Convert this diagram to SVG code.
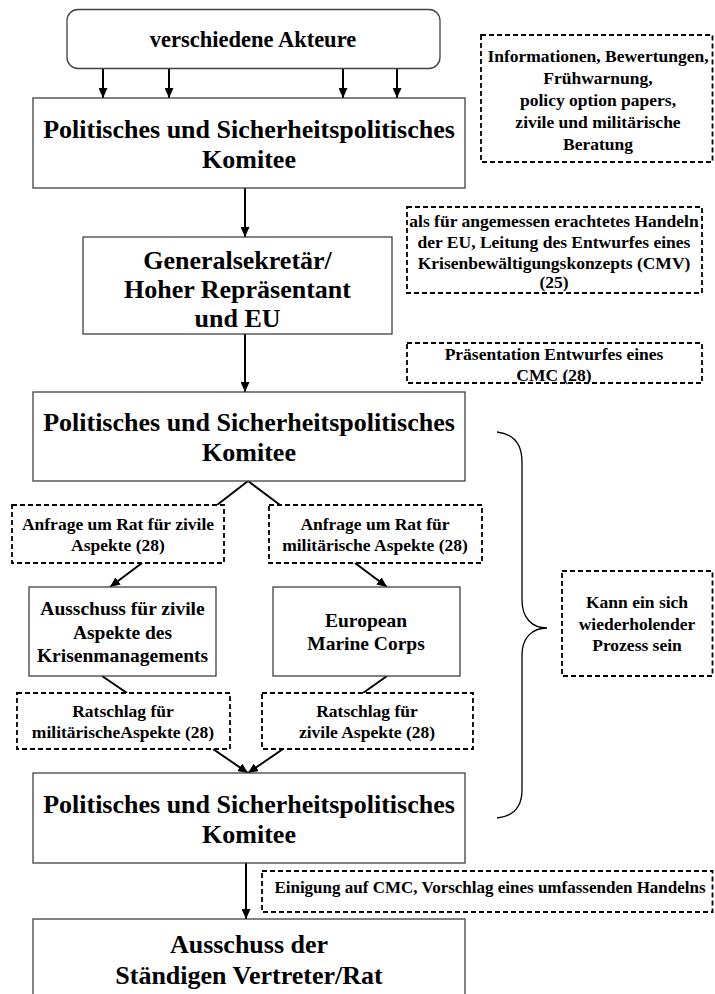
<svg xmlns="http://www.w3.org/2000/svg" width="715" height="994" viewBox="0 0 715 994">
<style>
.box{fill:#fff;stroke:#404040;stroke-width:1.3}
.dash{fill:#fff;stroke:#000;stroke-width:1.8;stroke-dasharray:5 3}
.t{font-family:"Liberation Serif","Times New Roman",serif;font-weight:bold;text-anchor:middle;fill:#000}
.big{font-size:26px}
.mid{font-size:19.5px}
.sm{font-size:17.5px}
.xs{font-size:17px}
.top{font-size:22.5px}
.con{stroke:#000;stroke-width:2;fill:none}
.brace{stroke:#000;stroke-width:1.3;fill:none}
</style>
<defs>
<marker id="ah" markerUnits="userSpaceOnUse" markerWidth="11" markerHeight="9" refX="10" refY="4.5" orient="auto">
<path d="M0,0 L10,4.5 L0,9 z" fill="#000"/>
</marker>
</defs>
<rect width="715" height="994" fill="#fff"/>

<g id="connectors">
<line class="con" x1="103" y1="68" x2="103" y2="98" marker-end="url(#ah)"/>
<line class="con" x1="169" y1="68" x2="169" y2="98" marker-end="url(#ah)"/>
<line class="con" x1="343" y1="68" x2="343" y2="98" marker-end="url(#ah)"/>
<line class="con" x1="397" y1="68" x2="397" y2="98" marker-end="url(#ah)"/>
<line class="con" x1="245" y1="188" x2="245" y2="237" marker-end="url(#ah)"/>
<line class="con" x1="245" y1="334" x2="245" y2="392" marker-end="url(#ah)"/>
<line class="con" x1="248" y1="481" x2="217" y2="505"/>
<line class="con" x1="248" y1="481" x2="280" y2="505"/>
<line class="con" x1="142" y1="563" x2="110" y2="587" marker-end="url(#ah)"/>
<line class="con" x1="355" y1="563" x2="387" y2="587" marker-end="url(#ah)"/>
<line class="con" x1="102" y1="676" x2="127" y2="693"/>
<line class="con" x1="387" y1="676" x2="363" y2="693"/>
<line class="con" x1="213" y1="749" x2="248" y2="773" marker-end="url(#ah)"/>
<line class="con" x1="283" y1="749" x2="248" y2="773" marker-end="url(#ah)"/>
<line class="con" x1="246" y1="863" x2="246" y2="919" marker-end="url(#ah)"/>
<path class="brace" d="M497,432 C515,434 522,445 522,462 L522,600 C522,618 532,628 547,628 C532,628 522,638 522,655 L522,790 C522,806 515,816 497,818"/>
</g>

<g id="akteure">
<rect class="box" x="67" y="9.5" width="373" height="59" rx="11"/>
<text class="t top" x="253" y="47">verschiedene Akteure</text>
</g>

<g id="psk1">
<rect class="box" x="33" y="98" width="432" height="90"/>
<text class="t big" x="249" y="138">Politisches und Sicherheitspolitisches</text>
<text class="t big" x="249" y="168">Komitee</text>
</g>

<g id="info">
<rect class="dash" x="481" y="35" width="231.5" height="127"/>
<text class="t sm" x="598" y="62">Informationen, Bewertungen,</text>
<text class="t sm" x="598" y="84">Frühwarnung,</text>
<text class="t sm" x="598" y="106">policy option papers,</text>
<text class="t sm" x="598" y="128">zivile und militärische</text>
<text class="t sm" x="598" y="150">Beratung</text>
</g>

<g id="gs">
<rect class="box" x="83" y="237" width="309" height="97"/>
<text class="t big" x="237.5" y="269">Generalsekretär/</text>
<text class="t big" x="237.5" y="298">Hoher Repräsentant</text>
<text class="t big" x="237.5" y="327">und EU</text>
</g>

<g id="handeln">
<rect class="dash" x="407" y="207" width="295" height="86"/>
<text class="t sm" x="554" y="227">als für angemessen erachtetes Handeln</text>
<text class="t sm" x="554" y="248">der EU, Leitung des Entwurfes eines</text>
<text class="t sm" x="554" y="269">Krisenbewältigungskonzepts (CMV)</text>
<text class="t sm" x="554" y="288">(25)</text>
</g>

<g id="praesentation">
<rect class="dash" x="407" y="343" width="295" height="40"/>
<text class="t sm" x="554" y="360">Präsentation Entwurfes eines</text>
<text class="t sm" x="554" y="381">CMC (28)</text>
</g>

<g id="psk2">
<rect class="box" x="33" y="392" width="432" height="89"/>
<text class="t big" x="249" y="431">Politisches und Sicherheitspolitisches</text>
<text class="t big" x="249" y="461">Komitee</text>
</g>

<g id="anfrage-zivil">
<rect class="dash" x="12" y="505" width="212" height="58"/>
<text class="t sm" x="118" y="530">Anfrage um Rat für zivile</text>
<text class="t sm" x="118" y="551">Aspekte (28)</text>
</g>

<g id="anfrage-mil">
<rect class="dash" x="269" y="505" width="213" height="58"/>
<text class="t sm" x="375" y="530">Anfrage um Rat für</text>
<text class="t sm" x="375" y="551">militärische Aspekte (28)</text>
</g>

<g id="ausschuss-zivil">
<rect class="box" x="29" y="587" width="187" height="89"/>
<text class="t mid" x="122.5" y="615">Ausschuss für zivile</text>
<text class="t mid" x="122.5" y="639">Aspekte des</text>
<text class="t mid" x="122.5" y="662">Krisenmanagements</text>
</g>

<g id="emc">
<rect class="box" x="273" y="587" width="187" height="89"/>
<text class="t mid" x="366" y="627">European</text>
<text class="t mid" x="366" y="650">Marine Corps</text>
</g>

<g id="ratschlag-mil">
<rect class="dash" x="17" y="693" width="213" height="56"/>
<text class="t sm" x="123" y="717">Ratschlag für</text>
<text class="t sm" x="123" y="738">militärischeAspekte (28)</text>
</g>

<g id="ratschlag-zivil">
<rect class="dash" x="262" y="693" width="211" height="56"/>
<text class="t sm" x="367" y="717">Ratschlag für</text>
<text class="t sm" x="367" y="738">zivile Aspekte (28)</text>
</g>

<g id="wiederholend">
<rect class="dash" x="562" y="571" width="150.5" height="105"/>
<text class="t sm" x="637" y="608">Kann ein sich</text>
<text class="t sm" x="637" y="630">wiederholender</text>
<text class="t sm" x="637" y="651">Prozess sein</text>
</g>

<g id="psk3">
<rect class="box" x="33" y="773" width="432" height="90"/>
<text class="t big" x="249" y="813">Politisches und Sicherheitspolitisches</text>
<text class="t big" x="249" y="843">Komitee</text>
</g>

<g id="einigung">
<rect class="dash" x="262" y="871" width="450.5" height="41"/>
<text class="t xs" x="490" y="893">Einigung auf CMC, Vorschlag eines umfassenden Handelns</text>
</g>

<g id="ausschuss-vertreter">
<rect class="box" x="33" y="919" width="432" height="90"/>
<text class="t big" x="249" y="953">Ausschuss der</text>
<text class="t big" x="249" y="984">Ständigen Vertreter/Rat</text>
</g>
</svg>
